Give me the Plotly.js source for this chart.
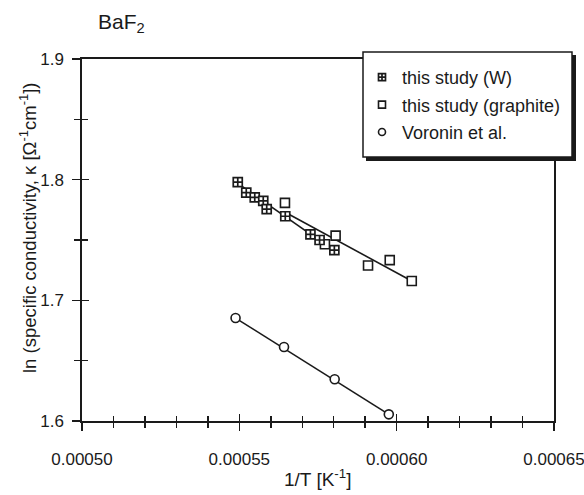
<!DOCTYPE html>
<html><head><meta charset="utf-8">
<script src="https://cdn.plot.ly/plotly-3.0.1.min.js"></script>
<style>html,body{margin:0;padding:0;background:#fff}</style>
</head><body><div id="chart" style="width:584px;height:495px"></div>
<script>
// ---- data ----
const wX = [0.0005495,0.0005522,0.0005549,0.0005576,0.0005587,0.0005646,0.0005726,0.0005755,0.0005802];
const wY = [1.7980,1.7893,1.7854,1.7825,1.7756,1.7697,1.7547,1.7500,1.7416];
const gX = [0.0005645,0.0005772,0.0005806,0.0005909,0.0005978,0.0006048];
const gY = [1.7808,1.7465,1.7536,1.7289,1.7333,1.7160];
const vX = [0.0005488,0.0005642,0.0005803,0.0005975];
const vY = [1.6853,1.6613,1.6346,1.6055];
// fitted lines as drawn in the figure
const wFitX = [0.0005495,0.0005802], wFitY = [1.7970,1.7410];
const gFitX = [0.0005650,0.0006048], gFitY = [1.7724,1.7160];
const vFitX = [0.0005488,0.0005975], vFitY = [1.6853,1.6055];
const seriesNames = ['this study (W)','this study (graphite)','Voronin et al.'];
const xTickVals = [0.0005,0.00055,0.0006,0.00065];
const xTickText = ['0.00050','0.00055','0.00060','0.00065'];
const yTickVals = [1.6,1.7,1.8,1.9];
const yTickText = ['1.6','1.7','1.8','1.9'];
const xRange = [0.0005,0.00065];
const yRange = [1.6,1.9];

const FONT = '"Liberation Sans", Arial, Helvetica, sans-serif';
const INK = '#1a1a1a';
const L = 82, R = 554, T = 59, B = 421, W = 584, H = 495;
const px = v => (v - L) / (R - L);
const py = v => (B - v) / (B - T);

function line(x, y){ return {x, y, mode:'lines', type:'scatter', line:{color:INK, width:1.6}, showlegend:false, hoverinfo:'skip'}; }
const symW = {symbol:'square-cross', color:'#fff', line:{color:INK, width:1.7}};
const symG = {symbol:'square', color:'#fff', line:{color:INK, width:1.6}};
const symV = {symbol:'circle', color:'#fff', line:{color:INK, width:1.6}};

const traces = [
  line(wFitX, wFitY), line(gFitX, gFitY), line(vFitX, vFitY),
  {x:gX, y:gY, mode:'markers', type:'scatter', marker:Object.assign({size:9}, symG), showlegend:false},
  {x:wX, y:wY, mode:'markers', type:'scatter', marker:Object.assign({size:9}, symW), showlegend:false},
  {x:vX, y:vY, mode:'markers', type:'scatter', marker:Object.assign({size:9}, symV), showlegend:false},
  // legend entries
  {x:[null], y:[null], mode:'markers', type:'scatter', name:seriesNames[0], legendgroup:'a', marker:Object.assign({size:7}, symW)},
  {x:[null], y:[null], mode:'markers', type:'scatter', name:seriesNames[1], legendgroup:'b', marker:Object.assign({size:7}, symG)},
  {x:[null], y:[null], mode:'markers', type:'scatter', name:seriesNames[2], legendgroup:'c', marker:Object.assign({size:7}, symV)},
  // carrier for the inside-tick overlay axes
  {x:[null], y:[null], xaxis:'x2', yaxis:'y2', mode:'markers', type:'scatter', showlegend:false, hoverinfo:'skip'}
];

const eps = 1e-12;
const axBase = {showgrid:false, zeroline:false, tickcolor:INK, tickwidth:1.5};
const layout = {
  width:W, height:H,
  margin:{l:L, r:W-R, t:T, b:H-B, pad:0},
  paper_bgcolor:'#fff', plot_bgcolor:'#fff',
  font:{family:FONT, color:INK, size:17},
  showlegend:true,
  xaxis: Object.assign({}, axBase, {
    range:[xRange[0]-eps, xRange[1]+eps], tickmode:'array', tickvals:xTickVals, ticktext:xTickText,
    ticks:'outside', ticklen:8, showline:true, linecolor:INK, linewidth:1.6, mirror:true,
    ticklabelstandoff:14, ticklabeloverflow:'allow', tickfont:{size:17},
    minor:{tickmode:'linear', tick0:0.0005, dtick:0.00001, ticks:'outside', ticklen:5, tickwidth:1.5, tickcolor:INK, showgrid:false}
  }),
  yaxis: Object.assign({}, axBase, {
    range:[yRange[0]-eps, yRange[1]+eps], tickmode:'array', tickvals:yTickVals, ticktext:yTickText,
    ticks:'outside', ticklen:8, showline:true, linecolor:INK, linewidth:1.6, mirror:true,
    ticklabelstandoff:5, ticklabeloverflow:'allow', tickfont:{size:17},
    minor:{tickmode:'linear', tick0:1.6, dtick:0.05, ticks:'outside', ticklen:6, tickwidth:1.5, tickcolor:INK, showgrid:false}
  }),
  xaxis2: Object.assign({}, axBase, {
    range:[xRange[0]-eps, xRange[1]+eps], overlaying:'x', anchor:'y2', side:'bottom', tickmode:'array', tickvals:xTickVals,
    ticks:'inside', ticklen:7, showticklabels:false, showline:false,
    minor:{tickmode:'linear', tick0:0.0005, dtick:0.00001, ticks:'inside', ticklen:5, tickwidth:1.5, tickcolor:INK, showgrid:false}
  }),
  yaxis2: Object.assign({}, axBase, {
    range:[yRange[0]-eps, yRange[1]+eps], overlaying:'y', anchor:'x2', side:'left', tickmode:'array', tickvals:yTickVals,
    ticks:'inside', ticklen:7, showticklabels:false, showline:false,
    minor:{tickmode:'linear', tick0:1.6, dtick:0.05, ticks:'inside', ticklen:6, tickwidth:1.5, tickcolor:INK, showgrid:false}
  }),
  legend:{
    x:px(362), y:py(59), xanchor:'left', yanchor:'top',
    bgcolor:'rgba(0,0,0,0)', borderwidth:0, traceorder:'grouped', tracegroupgap:1,
    font:{family:FONT, size:18, color:INK}
  },
  shapes:[
    {type:'rect', xref:'paper', yref:'paper', x0:px(366), x1:px(576), y0:py(55), y1:py(161), fillcolor:INK, line:{width:0}, layer:'above'},
    {type:'rect', xref:'paper', yref:'paper', x0:px(363), x1:px(572), y0:py(52), y1:py(157), fillcolor:'#fff', line:{color:INK, width:1.5}, layer:'above'}
  ],
  annotations:[
    {text:'BaF<sub>2</sub>', xref:'paper', yref:'paper', x:px(96), y:py(23), xanchor:'left', yanchor:'middle', showarrow:false, font:{family:FONT, size:21, color:INK}},
    {text:'1/T [K<sup>-1</sup>]', xref:'paper', yref:'paper', x:px(317), y:py(478), xanchor:'center', yanchor:'middle', showarrow:false, font:{family:FONT, size:19, color:INK}},
    {text:'ln (specific conductivity, κ [Ω<sup>-1</sup>cm<sup>-1</sup>])', xref:'paper', yref:'paper', x:px(28), y:py(228), xanchor:'center', yanchor:'middle', textangle:-90, showarrow:false, font:{family:FONT, size:18.5, color:INK}}
  ]
};

Plotly.newPlot('chart', traces, layout, {displayModeBar:false, staticPlot:true});
</script>
</body></html>
